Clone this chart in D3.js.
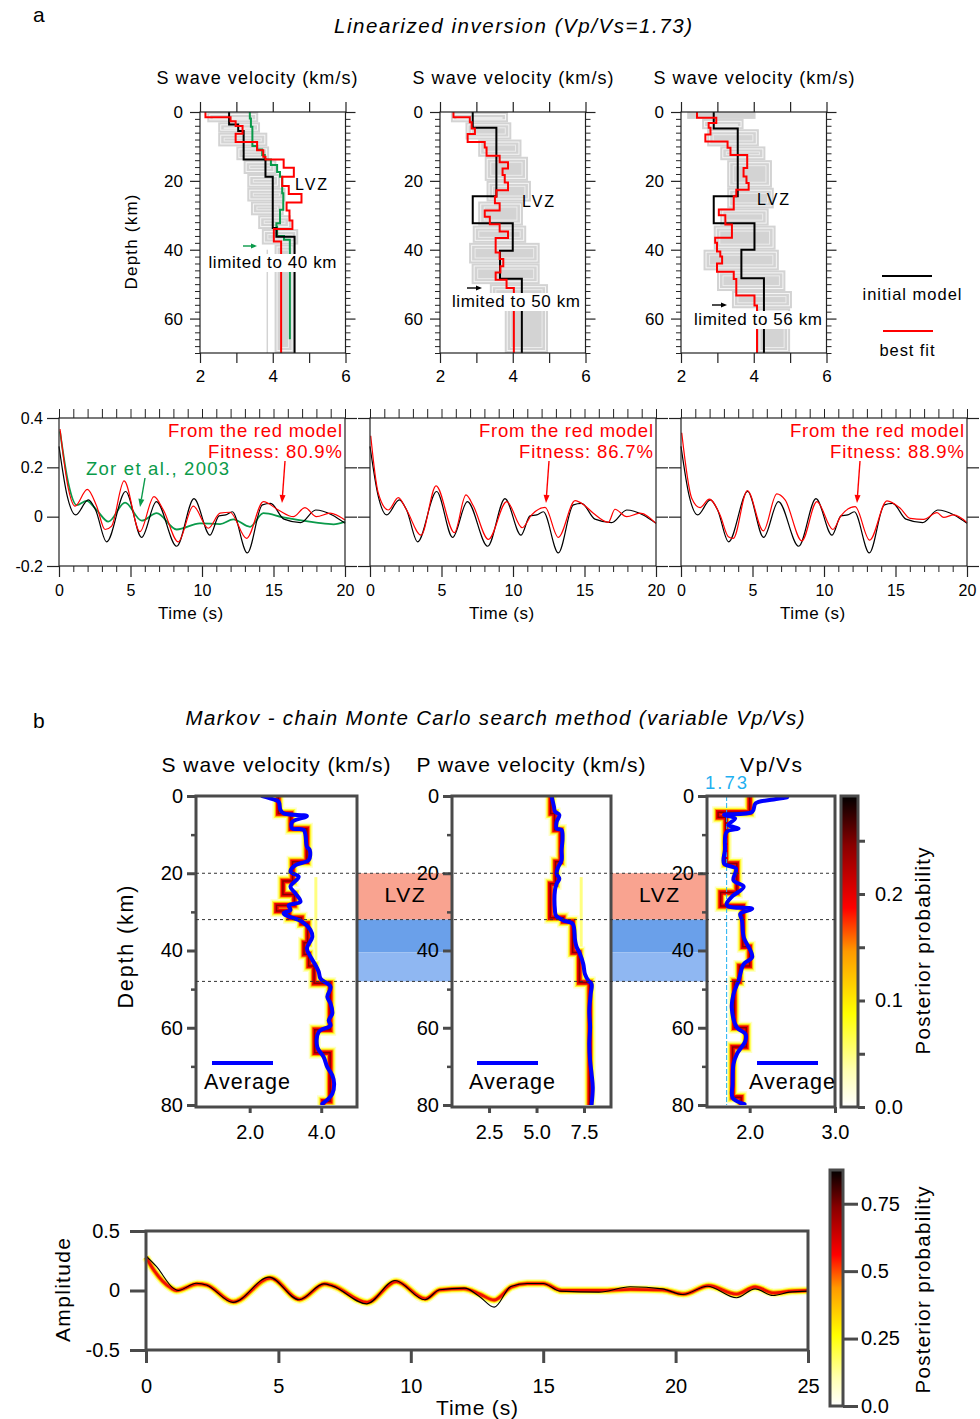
<!DOCTYPE html>
<html>
<head>
<meta charset="utf-8">
<script src="https://cdn.jsdelivr.net/npm/d3@7"></script>
<style>
  body { margin: 0; background: #fff; }
  svg { font-family: "Liberation Sans", Arial, sans-serif; }
</style>
</head>
<body>
<script>
/*************** DATA ***************/
// part a - depth profiles, steps are [top depth (km), Vs (km/s)]
const initialModel1 = [[0,2.8],[3.6,3.05],[5.5,3.2],[13.8,3.8],[18.8,4.0],[33.7,4.1],[36.2,4.6]];
const initialModel2 = [[0,2.9],[4.6,3.55],[24.5,2.9],[32.3,4.0],[40.3,3.65],[48.4,4.25]];
const initialModel3 = [[0,2.9],[4.8,3.56],[24.5,2.9],[32.3,4.02],[40,3.66],[48.3,4.28]];
const bestFit1 = [[0,2.15],[1.5,2.84],[2.7,2.98],[4.1,3.17],[6.3,2.98],[8.7,3.57],[11.1,3.74],[13,3.8],[13.8,4.3],
  [16.2,4.58],[18.8,4.26],[21.5,4.44],[23.8,4.79],[26.3,4.38],[28.6,4.46],[31.5,4.54],[34,4.03],[37.6,4.23]];
const bestFit2 = [[0,2.37],[1.5,2.82],[3,2.87],[4.8,2.96],[6.4,2.76],[8.7,3.23],[10.3,3.28],[12.7,3.64],[14.6,3.87],
  [16.4,3.72],[18.3,3.78],[20.5,3.87],[22.7,3.55],[24.6,3.51],[26.5,3.64],[28.6,3.23],[30.4,3.37],[32.6,3.64],
  [34.7,3.87],[36.6,3.53],[40.8,3.64],[42.7,3.74],[44.8,3.66],[46.6,3.53],[48.7,3.83],[51.1,4.03]];
const bestFit3 = [[0,2.44],[1.7,2.97],[3.2,2.76],[4.6,2.81],[6.5,2.67],[8.6,3.28],[10.4,3.36],[12.5,3.82],[16.3,3.72],
  [18.7,3.8],[20.6,3.86],[22.6,3.52],[24.5,3.45],[28.3,3.04],[30,3.22],[32.7,3.4],[36.5,2.94],[38,2.99],[40.5,3.08],
  [42,3.13],[44,2.99],[46.4,3.45],[48.5,3.52],[53.3,4.02],[56.2,4.09]];
const zorModel = [[0,3.37],[1.9,3.4],[4.3,3.44],[9.9,3.57],[10.9,3.71],[12.5,3.78],[13.8,3.95],[15.4,4.12],[17.4,4.2],
  [18.8,4.26],[23.6,4.29],[28.4,4.2],[32.3,4.1],[33.3,4.12],[36,4.31],[37.1,4.47]];
const zorBottom = 66;
// gray ensemble of tested models: [top depth, bottom depth, min Vs, max Vs]
const cloud1 = [[0,3,2.2,3.6],[3,6,2.5,3.65],[6,10,2.5,3.85],[10,14,3.0,3.9],[14,18,3.2,4.1],[18,22,3.3,4.2],
  [22,26,3.3,4.35],[26,30,3.4,4.3],[30,34,3.6,4.5],[34,38.5,3.7,4.7],[38.5,70,4.05,4.6],[40,70,3.83,3.87]];
const cloud2 = [[0,3,2.3,3.87],[3,8,2.7,3.96],[8,13,3.05,4.24],[13,20,3.23,4.42],[20,26,3.28,4.5],[26,33,3.05,4.28],
  [33,38,2.9,4.37],[38,44,2.8,4.74],[44,50,2.87,4.74],[50,55,3.37,4.97],[55,70,3.78,4.97]];
const cloud3 = [[0,2,2.17,4.05],[2,5,2.58,3.72],[5,10,2.72,4.14],[10,14,3.08,4.32],[14,22,3.27,4.5],[22,28,3.27,4.55],
  [28,33,3.08,4.41],[33,40,2.9,4.6],[40,46,2.62,4.69],[46,52,2.99,4.87],[52,57,3.4,5.05],[57,70,4.1,5.0]];

// part a - receiver functions [time (s), amplitude]
const observedA = [[0,0.285],[0.58,0.082],[1.17,0.007],[2.05,0.068],[2.56,0.027],[3.33,-0.102],[4.66,0.102],
  [5.78,-0.084],[6.81,0.061],[8.23,-0.12],[9.44,0.073],[10.56,-0.075],[11.19,0.003],[11.66,0.007],[12.12,0.02],
  [13.17,-0.147],[14.22,0.048],[14.8,0.054],[15.73,-0.01],[16.9,-0.024],[17.95,0.027],[19.1,0.007],[20,-0.027]];
const synthetic1 = [[0.07,0.355],[0.65,0.115],[1.12,0.043],[1.98,0.111],[2.63,0.043],[3.22,-0.052],[3.68,-0.038],
  [4.55,0.145],[5.66,-0.061],[6.64,0.081],[7.3,0.027],[8.34,-0.102],[9.39,0.043],[10.44,-0.047],[11.26,0.014],
  [11.96,0.018],[13.12,-0.088],[14.29,0.061],[15.34,0.027],[16.39,0],[17.2,0.037],[18,0],[18.95,0.014],[20,-0.014]];
const synthetic2 = [[0.05,0.328],[0.58,0.095],[1.28,0.027],[1.98,0.077],[2.56,0.027],[3.57,-0.075],[4.62,0.125],
  [5.9,-0.065],[6.71,0.088],[7.23,0.043],[8.28,-0.092],[9.56,0.061],[10.65,-0.045],[11.3,0.007],[12.24,0.038],
  [13.17,-0.084],[14.34,0.065],[14.97,0.047],[15.62,0.014],[16.67,-0.023],[17.13,0.03],[17.95,0],[18.88,0.014],[20,-0.027]];
const synthetic3 = [[0.05,0.34],[0.75,0.075],[1.33,0.037],[1.98,0.071],[2.73,0.007],[3.31,-0.081],[3.66,-0.088],
  [4.64,0.106],[5.76,-0.058],[6.7,0.092],[7.28,0.068],[8.45,-0.098],[9.5,0.061],[10.62,-0.052],[11.18,0.003],
  [12.18,0.041],[13.19,-0.095],[14.4,0.064],[15.33,0.034],[16.03,-0.007],[16.97,-0.011],[17.9,0.016],[18.37,-0.003],
  [19.07,0.007],[20,-0.024]];
const zorWave = [[0.07,0.346],[0.65,0.136],[1.24,0.047],[1.93,0.064],[2.63,0.027],[3.45,-0.02],[4.62,0.057],
  [5.78,-0.016],[6.83,0.014],[8.23,-0.052],[9.86,-0.027],[11.26,-0.03],[12.19,-0.011],[13.36,-0.041],[14.29,0.014],
  [15.69,-0.003],[18,-0.024],[19.2,-0.031],[20,-0.02]];
const fitness = ['80.9%', '86.7%', '88.9%'];

// part b - average profiles [depth (km), value]
const avgVs = [[0,2.35],[0.9,2.67],[1.5,2.81],[3.6,2.86],[4.5,2.95],[5.2,3.6],[6.7,3.19],[8.4,3.19],[8.8,3.51],
  [13.1,3.6],[14,3.68],[16.6,3.65],[17.9,3.28],[19.6,3.14],[20.9,3.37],[23.5,3.14],[25.2,3.28],[27.4,3.42],[28.3,3.09],
  [29.5,3.14],[30.4,2.95],[32.6,3.47],[34.7,3.7],[36.5,3.75],[39.5,3.6],[41.6,3.7],[43.8,3.84],[45.5,3.93],[47.3,3.98],
  [49.4,4.26],[52,4.17],[53.7,4.26],[56.3,4.31],[58.1,4.21],[59.4,4.26],[61.1,3.93],[65,3.89],[67.6,4.07],[70.2,4.17],
  [72.3,4.31],[74.5,4.36],[77.1,4.31],[79.7,4.03]];
const avgVp = [[0,5.79],[2.8,5.92],[4,5.97],[4.9,6.2],[6.7,6.06],[8.4,6.06],[8.8,6.32],[11,6.37],[14,6.32],[16.6,6.32],
  [18.4,6.14],[20.1,6.06],[21.4,6.2],[22.7,6.06],[24.4,5.97],[29.6,5.97],[30.9,6.02],[32.2,6.41],[33.1,6.9],[37.4,7.03],
  [39.1,7.11],[40.9,7.29],[43.5,7.46],[46.1,7.55],[47.8,7.73],[48.7,7.9],[51.3,7.85],[55.6,7.78],[59.9,7.82],[64.2,7.78],
  [68.6,7.82],[72,7.9],[75.5,7.96],[79.8,7.9]];
const avgRatio = [[0.3,2.44],[0.9,2.28],[1.9,2.07],[4.1,2.03],[4.9,1.7],[5.8,1.83],[7.5,1.75],[8.4,1.87],[9.3,1.73],
  [14,1.71],[17.5,1.7],[18.8,1.84],[21.8,1.81],[23.5,1.93],[26.1,1.79],[27.9,1.73],[28.6,1.75],[29.2,2.03],[30.5,1.89],
  [32.2,1.91],[36.5,1.93],[41.7,2.03],[43.5,1.93],[47.8,1.87],[51.3,1.81],[54.7,1.79],[59.9,1.85],[61.6,1.95],
  [63.4,1.95],[66.8,1.85],[69.4,1.81],[74.6,1.8],[78.1,1.8],[79.8,1.94]];
// part b - most probable layers [top depth, value]
const modeVs = [[0,2.8],[4.5,3.15],[8.5,3.6],[17,3.2],[22,2.93],[25.5,3.25],[28.3,2.75],[29.8,3.1],[31.5,3.45],
  [33,3.62],[38,3.52],[41,3.65],[44,3.8],[48.5,4.25],[60.5,3.82],[66.5,4.25],[79,4.05]];
const modeVp = [[0,5.75],[4.5,5.95],[8.8,6.28],[17,6.0],[22.7,5.72],[31.5,6.4],[32.5,6.9],[40.5,7.25],[48.3,7.8]];
const modeRatio = [[0,2.0],[4.2,1.63],[5.5,1.72],[17.5,1.85],[25,1.66],[28.5,1.92],[39,2.0],[44,1.88],[48,1.82],
  [60,1.96],[65,1.8],[78,1.9]];
// faint secondary modes [top depth, bottom depth, value]
const secondVs = [21, 48, 3.85];
const secondVp = [21, 48, 7.35];
const lvzDepths = [20, 32, 40.5, 48];

// part b - receiver function [time, amplitude]
const observedB = [[0,0.29],[0.4,0.2],[1.03,0.02],[1.21,0],[1.9,0.061],[2.28,0.047],[3.28,-0.1],[4.65,0.112],
  [5.78,-0.078],[6.71,0.056],[7.03,0.039],[8.34,-0.112],[9.4,0.084],[10.53,-0.078],[11.09,0.006],[12.03,0.02],
  [12.59,-0.05],[13.15,-0.14],[13.78,0.034],[14.39,0.059],[15.0,0.059],[15.63,-0.005],[17.1,-0.014],[18.28,0.031],
  [19.5,0.014],[20.27,-0.034],[21.2,0.036],[22.3,-0.061],[23.0,0.014],[23.68,-0.042],[24.3,-0.014],[25,-0.005]];
const posteriorB = [[0,0.28],[0.3,0.17],[0.95,0.02],[1.15,0],[1.95,0.055],[2.3,0.045],[3.3,-0.095],[4.7,0.105],
  [5.8,-0.075],[6.75,0.055],[7.05,0.04],[8.35,-0.1],[9.45,0.075],[10.55,-0.07],[11.1,0.005],[12.0,0.015],[12.6,-0.03],
  [13.15,-0.08],[13.8,0.03],[14.4,0.058],[15.0,0.058],[15.7,0],[17.2,0],[18.3,0.01],[19.5,0.005],[20.3,-0.03],
  [21.25,0.04],[22.3,-0.03],[23.0,0.03],[23.7,-0.02],[24.4,-0.005],[25,0]];

const hotStops = [[0,'#ffffff'],[0.12,'#ffffb0'],[0.3,'#ffff00'],[0.5,'#ff9a00'],[0.64,'#ff0000'],[0.84,'#8a0000'],[1,'#000000']];

/*************** DRAWING ***************/
const svg = d3.select('body').append('svg').attr('width', 980).attr('height', 1419);

function txt(x, y, s, o = {}) {
  const t = svg.append('text').attr('x', x).attr('y', y).text(s)
    .attr('font-size', o.size || 17)
    .attr('text-anchor', o.anchor || 'start')
    .attr('fill', o.fill || '#000');
  if (o.italic) t.attr('font-style', 'italic');
  if (o.len) t.attr('textLength', o.len).attr('lengthAdjust', 'spacing');
  if (o.rotate) t.attr('transform', `rotate(-90,${x},${y})`);
  return t;
}

function arrow(x1, y1, x2, y2, color, hl = 7, hw = 3) {
  const a = Math.atan2(y2 - y1, x2 - x1);
  const bx = x2 - hl * Math.cos(a), by = y2 - hl * Math.sin(a);
  svg.append('line').attr('x1', x1).attr('y1', y1).attr('x2', bx).attr('y2', by)
    .attr('stroke', color).attr('stroke-width', 1.4);
  svg.append('path')
    .attr('d', `M${x2},${y2}L${bx - hw * Math.sin(a)},${by + hw * Math.cos(a)}L${bx + hw * Math.sin(a)},${by - hw * Math.cos(a)}Z`)
    .attr('fill', color);
}

// turn layer steps into vertical/horizontal points
function stepPoints(steps, dEnd) {
  const pts = [];
  steps.forEach((s, i) => {
    const d1 = i < steps.length - 1 ? steps[i + 1][0] : dEnd;
    pts.push([s[1], s[0]], [s[1], d1]);
  });
  return pts;
}

function styleAxis(g, color, width, size) {
  g.select('.domain').remove();
  g.selectAll('.tick line').attr('stroke', color).attr('stroke-width', width);
  g.selectAll('.tick text').attr('font-size', size).attr('fill', '#000')
    .attr('font-family', '"Liberation Sans", Arial, sans-serif');
}

/*************** PART A ***************/
txt(33, 22, 'a', {size: 21});
txt(513, 33, 'Linearized  inversion (Vp/Vs=1.73)', {size: 20.5, italic: true, anchor: 'middle', len: 358});

const yDepthA = d3.scaleLinear().domain([0, 70]).range([112, 353]);
const profilesA = [
  {left: 200, init: initialModel1, best: bestFit1, cloud: cloud1, title: 257,
   lvz: [295, 190], lim: ['limited to 40 km', 272.5, 268], arr: [243, 257, 246, '#0a9a4a']},
  {left: 440, init: initialModel2, best: bestFit2, cloud: cloud2, title: 513,
   lvz: [522, 207], lim: ['limited to 50 km', 516, 307], arr: [467, 482, 288, '#000']},
  {left: 681, init: initialModel3, best: bestFit3, cloud: cloud3, title: 754,
   lvz: [757, 205], lim: ['limited to 56 km', 758, 325], arr: [712, 727, 305, '#000']}
];

profilesA.forEach((p, i) => {
  const x = d3.scaleLinear().domain([2, 6]).range([p.left, p.left + 145.5]);
  const y = yDepthA;
  const line = d3.line().x(d => x(d[0])).y(d => y(d[1]));

  // ensemble cloud
  p.cloud.forEach(c => {
    const rx = x(c[2]), ry = y(c[0]), rw = x(c[3]) - x(c[2]), rh = y(c[1]) - y(c[0]);
    svg.append('rect').attr('x', rx).attr('y', ry).attr('width', rw).attr('height', rh).attr('fill', '#d3d3d3');
    if (rw > 10 && rh > 8) {
      svg.append('rect').attr('x', rx + 2.5).attr('y', ry + 2.5).attr('width', rw - 5).attr('height', rh - 5)
        .attr('fill', 'none').attr('stroke', '#f6f6f6').attr('stroke-width', 1);
      svg.append('rect').attr('x', rx + 6).attr('y', ry + 5.5).attr('width', Math.max(rw - 12, 1)).attr('height', Math.max(rh - 11, 1))
        .attr('fill', 'none').attr('stroke', '#ececec').attr('stroke-width', 1);
    }
  });

  if (i === 0) {
    svg.append('path').attr('d', line(stepPoints(zorModel, zorBottom)))
      .attr('fill', 'none').attr('stroke', '#0a9a4a').attr('stroke-width', 2);
  }
  svg.append('path').attr('d', line(stepPoints(p.init, 70)))
    .attr('fill', 'none').attr('stroke', '#000').attr('stroke-width', 2);
  svg.append('path').attr('d', line(stepPoints(p.best, 70)))
    .attr('fill', 'none').attr('stroke', '#ff0000').attr('stroke-width', 2);

  // frame and ticks
  svg.append('rect').attr('x', x(2)).attr('y', y(0)).attr('width', x(6) - x(2)).attr('height', y(70) - y(0))
    .attr('fill', 'none').attr('stroke', '#222').attr('stroke-width', 1.2);
  const minor = d3.range(0, 71, 2).filter(d => d % 20 !== 0);
  [[d3.axisLeft, x(2)], [d3.axisRight, x(6)]].forEach(([ax, pos], k) => {
    const g1 = svg.append('g').attr('transform', `translate(${pos},0)`)
      .call(ax(y).tickValues(minor).tickSize(5).tickFormat(''));
    styleAxis(g1, '#222', 1, 17);
    const g2 = svg.append('g').attr('transform', `translate(${pos},0)`)
      .call(ax(y).tickValues([0, 20, 40, 60]).tickSize(10).tickPadding(7).tickFormat(k === 0 ? d3.format('d') : ''));
    styleAxis(g2, '#222', 1.2, 17);
  });
  const gt = svg.append('g').attr('transform', `translate(0,${y(0)})`)
    .call(d3.axisTop(x).tickValues([2, 3, 4, 5, 6]).tickSize(10).tickFormat(''));
  styleAxis(gt, '#222', 1.2, 17);
  const gb = svg.append('g').attr('transform', `translate(0,${y(70)})`)
    .call(d3.axisBottom(x).tickValues([2, 3, 4, 5, 6]).tickSize(10).tickPadding(7)
      .tickFormat(d => d % 2 === 0 ? d : ''));
  styleAxis(gb, '#222', 1.2, 17);

  txt(p.title, 84, 'S wave velocity (km/s)', {size: 18, anchor: 'middle', len: 201});
  txt(p.lvz[0], p.lvz[1], 'LVZ', {size: 16, len: 32});
  // white box behind "limited to" label
  svg.append('rect').attr('x', p.lim[1] - 66).attr('y', p.lim[2] - 14).attr('width', 132).attr('height', 18).attr('fill', '#fff');
  txt(p.lim[1], p.lim[2], p.lim[0], {size: 17, anchor: 'middle', len: 128});
  arrow(p.arr[0], p.arr[2], p.arr[1], p.arr[2], p.arr[3], 6, 2.6);
});
txt(137, 242, 'Depth (km)', {size: 17, anchor: 'middle', rotate: true, len: 95});

// legend
svg.append('line').attr('x1', 882).attr('x2', 932).attr('y1', 276).attr('y2', 276).attr('stroke', '#000').attr('stroke-width', 2);
txt(912, 300, 'initial model', {size: 16.5, anchor: 'middle', len: 99});
svg.append('line').attr('x1', 883).attr('x2', 933).attr('y1', 331).attr('y2', 331).attr('stroke', '#ff0000').attr('stroke-width', 2);
txt(907, 356, 'best fit', {size: 16.5, anchor: 'middle', len: 55});

// receiver functions of part a
const yAmpA = d3.scaleLinear().domain([-0.2, 0.4]).range([566, 418]);
const wavesA = [
  {left: 59, syn: synthetic1, arrowX: [285, 282]},
  {left: 370, syn: synthetic2, arrowX: [549, 546]},
  {left: 681, syn: synthetic3, arrowX: [860, 857]}
];
wavesA.forEach((p, i) => {
  const x = d3.scaleLinear().domain([0, 20]).range([p.left, p.left + 286]);
  const y = yAmpA;
  const line = d3.line().x(d => x(d[0])).y(d => y(d[1])).curve(d3.curveMonotoneX);

  if (i === 0) {
    svg.append('path').attr('d', line(zorWave)).attr('fill', 'none').attr('stroke', '#0a9a4a').attr('stroke-width', 1.8);
  }
  svg.append('path').attr('d', line(observedA)).attr('fill', 'none').attr('stroke', '#000').attr('stroke-width', 1.2);
  svg.append('path').attr('d', line(p.syn)).attr('fill', 'none').attr('stroke', '#ff0000').attr('stroke-width', 1.2);

  svg.append('rect').attr('x', x(0)).attr('y', y(0.4)).attr('width', x(20) - x(0)).attr('height', y(-0.2) - y(0.4))
    .attr('fill', 'none').attr('stroke', '#222').attr('stroke-width', 1.2);
  const fmt = d => d === 0 ? '0' : String(d);
  const gl = svg.append('g').attr('transform', `translate(${x(0)},0)`)
    .call(d3.axisLeft(y).tickValues([-0.2, 0, 0.2, 0.4]).tickSize(12).tickPadding(4).tickFormat(i === 0 ? fmt : ''));
  styleAxis(gl, '#222', 1.2, 16);
  const gr = svg.append('g').attr('transform', `translate(${x(20)},0)`)
    .call(d3.axisRight(y).tickValues([-0.2, 0, 0.2, 0.4]).tickSize(12).tickFormat(''));
  styleAxis(gr, '#222', 1.2, 16);
  const gt = svg.append('g').attr('transform', `translate(0,${y(0.4)})`)
    .call(d3.axisTop(x).tickValues(d3.range(0, 21)).tickSize(9).tickFormat(''));
  styleAxis(gt, '#222', 1, 16);
  const gbm = svg.append('g').attr('transform', `translate(0,${y(-0.2)})`)
    .call(d3.axisBottom(x).tickValues(d3.range(0, 21).filter(d => d % 5 !== 0)).tickSize(6).tickFormat(''));
  styleAxis(gbm, '#222', 1, 16);
  const gb = svg.append('g').attr('transform', `translate(0,${y(-0.2)})`)
    .call(d3.axisBottom(x).tickValues([0, 5, 10, 15, 20]).tickSize(11).tickPadding(8));
  styleAxis(gb, '#222', 1.2, 16);

  txt(x(20) - 3, 437, 'From the red model', {size: 18.5, anchor: 'end', fill: '#ff0000', len: 174});
  txt(x(20) - 3, 458, 'Fitness: ' + fitness[i], {size: 18.5, anchor: 'end', fill: '#ff0000', len: 134});
  arrow(p.arrowX[0], 461, p.arrowX[1], 503, '#ff0000', 8, 3);
  txt(x(9.2), 619, 'Time (s)', {size: 17, anchor: 'middle', len: 65});
});
txt(86, 475, 'Zor  et  al., 2003', {size: 18.5, fill: '#0a9a4a', len: 143});
arrow(145, 478, 140, 507, '#0a9a4a', 8, 3);

/*************** PART B ***************/
txt(33, 728, 'b', {size: 21});
txt(495, 725, 'Markov - chain Monte Carlo search method (variable Vp/Vs)', {size: 20.5, italic: true, anchor: 'middle', len: 619});

const yDepthB = d3.scaleLinear().domain([0, 80]).range([796, 1105]);
const frameB = '#4a4a4a';

// LVZ boxes between panels
[[357, 452], [611, 707]].forEach(([a, b]) => {
  const y = yDepthB;
  svg.append('rect').attr('x', a).attr('y', y(lvzDepths[0])).attr('width', b - a).attr('height', y(lvzDepths[1]) - y(lvzDepths[0])).attr('fill', '#f9a390');
  svg.append('rect').attr('x', a).attr('y', y(lvzDepths[1])).attr('width', b - a).attr('height', y(lvzDepths[2]) - y(lvzDepths[1])).attr('fill', '#6aa0ea');
  svg.append('rect').attr('x', a).attr('y', y(lvzDepths[2])).attr('width', b - a).attr('height', y(lvzDepths[3]) - y(lvzDepths[2])).attr('fill', '#8fb7f2');
  txt((a + b) / 2, 902, 'LVZ', {size: 21, anchor: 'middle', len: 40});
});

const bandStyles = [
  {w: 12, c: '#ffffc4'}, {w: 9, c: '#ffff3a'}, {w: 6.5, c: '#ff9a00'}, {w: 4.5, c: '#f00000'}, {w: 1.5, c: '#8a0000'}
];

const profilesB = [
  {x0: 196, x1: 357, dom: [0.5, 5.0], ticks: [2, 4], avg: avgVs, mode: modeVs, second: secondVs,
   title: 'S wave velocity (km/s)', tx: 276, leg: 212},
  {x0: 452, x1: 611, dom: [0.55, 8.92], ticks: [2.5, 5, 7.5], avg: avgVp, mode: modeVp, second: secondVp,
   title: 'P wave velocity (km/s)', tx: 531, leg: 477},
  {x0: 707, x1: 835, dom: [1.5, 3.0], ticks: [2, 3], avg: avgRatio, mode: modeRatio, second: null,
   title: 'Vp/Vs', tx: 771, leg: 757}
];

profilesB.forEach((p, i) => {
  const x = d3.scaleLinear().domain(p.dom).range([p.x0, p.x1]);
  const y = yDepthB;
  const clipId = 'clipb' + i;
  svg.append('clipPath').attr('id', clipId).append('rect')
    .attr('x', p.x0).attr('y', y(0)).attr('width', p.x1 - p.x0).attr('height', y(80) - y(0));
  const g = svg.append('g').attr('clip-path', `url(#${clipId})`);

  if (p.second) {
    g.append('line').attr('x1', x(p.second[2])).attr('x2', x(p.second[2]))
      .attr('y1', y(p.second[0])).attr('y2', y(p.second[1])).attr('stroke', '#ffff80').attr('stroke-width', 3);
  }
  const stepLine = d3.line().x(d => x(d[0])).y(d => y(d[1]));
  const modePts = stepPoints(p.mode, 80);
  bandStyles.forEach(s => {
    g.append('path').attr('d', stepLine(modePts)).attr('fill', 'none')
      .attr('stroke', s.c).attr('stroke-width', s.w).attr('stroke-linejoin', 'miter');
  });
  if (i === 2) {
    g.append('line').attr('x1', x(1.73)).attr('x2', x(1.73)).attr('y1', y(0)).attr('y2', y(80))
      .attr('stroke', '#1fb0f0').attr('stroke-width', 1).attr('stroke-dasharray', '5,2');
  }
  const avgLine = d3.line().x(d => x(d[1])).y(d => y(d[0])).curve(d3.curveCatmullRom);
  g.append('path').attr('d', avgLine(p.avg)).attr('fill', 'none').attr('stroke', '#0000ff')
    .attr('stroke-width', 4).attr('stroke-linejoin', 'round').attr('stroke-linecap', 'round');

  svg.append('rect').attr('x', p.x0).attr('y', y(0)).attr('width', p.x1 - p.x0).attr('height', y(80) - y(0) + 2)
    .attr('fill', 'none').attr('stroke', frameB).attr('stroke-width', 3);
  const gm = svg.append('g').attr('transform', `translate(${p.x0},0)`)
    .call(d3.axisLeft(y).tickValues([10, 30, 50, 70]).tickSize(5).tickFormat(''));
  styleAxis(gm, frameB, 2.5, 20);
  const gl = svg.append('g').attr('transform', `translate(${p.x0},0)`)
    .call(d3.axisLeft(y).tickValues([0, 20, 40, 60, 80]).tickSize(9).tickPadding(4));
  styleAxis(gl, frameB, 3, 20);
  const gb = svg.append('g').attr('transform', `translate(0,${y(80) + 2})`)
    .call(d3.axisBottom(x).tickValues(p.ticks).tickSize(6).tickPadding(12).tickFormat(d3.format('.1f')));
  styleAxis(gb, frameB, 3, 20);

  txt(p.tx, 772, p.title, {size: 21, anchor: 'middle', len: i === 2 ? 62 : 229});
  svg.append('line').attr('x1', p.leg).attr('x2', p.leg + 61).attr('y1', 1063).attr('y2', 1063)
    .attr('stroke', '#0000ff').attr('stroke-width', 4);
  txt(p.leg - 8, 1089, 'Average', {size: 21.5, len: 86});
});
txt(726, 789, '1.73', {size: 18.5, anchor: 'middle', fill: '#1fb0f0', len: 42});
txt(133, 947, 'Depth (km)', {size: 21.5, anchor: 'middle', rotate: true, len: 123});

// dotted depth markers
[lvzDepths[0], lvzDepths[1], lvzDepths[3]].forEach(d => {
  svg.append('line').attr('x1', 196).attr('x2', 835).attr('y1', yDepthB(d)).attr('y2', yDepthB(d))
    .attr('stroke', '#333').attr('stroke-width', 1).attr('stroke-dasharray', '3,3');
});

// colour bars
const defs = svg.append('defs');
const grad = defs.append('linearGradient').attr('id', 'hot').attr('x1', 0).attr('y1', 1).attr('x2', 0).attr('y2', 0);
hotStops.forEach(s => grad.append('stop').attr('offset', s[0]).attr('stop-color', s[1]));

function colorBar(x0, x1, yTop, yBot, max, ticks, labels, tickLen, pad) {
  const y = d3.scaleLinear().domain([0, max]).range([yBot, yTop]);
  svg.append('rect').attr('x', x0).attr('y', yTop).attr('width', x1 - x0).attr('height', yBot - yTop)
    .attr('fill', 'url(#hot)').attr('stroke', frameB).attr('stroke-width', 3);
  const g = svg.append('g').attr('transform', `translate(${x1},0)`)
    .call(d3.axisRight(y).tickValues(ticks).tickSize(tickLen).tickPadding(pad)
      .tickFormat(d => labels.includes(d) ? (d === 0 ? '0.0' : String(d)) : ''));
  styleAxis(g, frameB, 3, 20);
  return y;
}
colorBar(841, 858, 796, 1107, 0.292, [0, 0.05, 0.1, 0.15, 0.2, 0.25], [0, 0.1, 0.2], 7, 10);
txt(930, 951, 'Posterior probability', {size: 20.5, anchor: 'middle', rotate: true, len: 207});
colorBar(830, 843, 1170, 1406, 0.875, [0, 0.25, 0.5, 0.75], [0, 0.25, 0.5, 0.75], 15, 3);
txt(930, 1290, 'Posterior probability', {size: 20.5, anchor: 'middle', rotate: true, len: 207});

// bottom receiver function
{
  const x = d3.scaleLinear().domain([0, 25]).range([146, 808]);
  const y = d3.scaleLinear().domain([-0.5, 0.5]).range([1350, 1231]);
  const line = d3.line().x(d => x(d[0])).y(d => y(d[1])).curve(d3.curveMonotoneX);
  [{w: 9, c: '#ffffc0'}, {w: 6.5, c: '#ffff30'}, {w: 4.5, c: '#ff9a00'}, {w: 2.8, c: '#f01000'}].forEach(s => {
    svg.append('path').attr('d', line(posteriorB)).attr('fill', 'none').attr('stroke', s.c).attr('stroke-width', s.w);
  });
  svg.append('path').attr('d', line(observedB)).attr('fill', 'none').attr('stroke', '#000').attr('stroke-width', 1.1);

  svg.append('path').attr('d', `M${x(0)},${y(0.5)}H${x(25)}V${y(-0.5)}H${x(0)}Z`)
    .attr('fill', 'none').attr('stroke', frameB).attr('stroke-width', 3);
  const gl = svg.append('g').attr('transform', `translate(${x(0)},0)`)
    .call(d3.axisLeft(y).tickValues([-0.5, 0, 0.5]).tickSize(16).tickPadding(10)
      .tickFormat(d => d === 0 ? '0' : String(d)));
  styleAxis(gl, frameB, 3, 20);
  const gb = svg.append('g').attr('transform', `translate(0,${y(-0.5)})`)
    .call(d3.axisBottom(x).tickValues([0, 5, 10, 15, 20, 25]).tickSize(13).tickPadding(16));
  styleAxis(gb, frameB, 3, 20);
  txt(477, 1415, 'Time (s)', {size: 21, anchor: 'middle', len: 82});
  txt(70, 1290, 'Amplitude', {size: 21, anchor: 'middle', rotate: true, len: 104});
}
</script>
</body>
</html>
